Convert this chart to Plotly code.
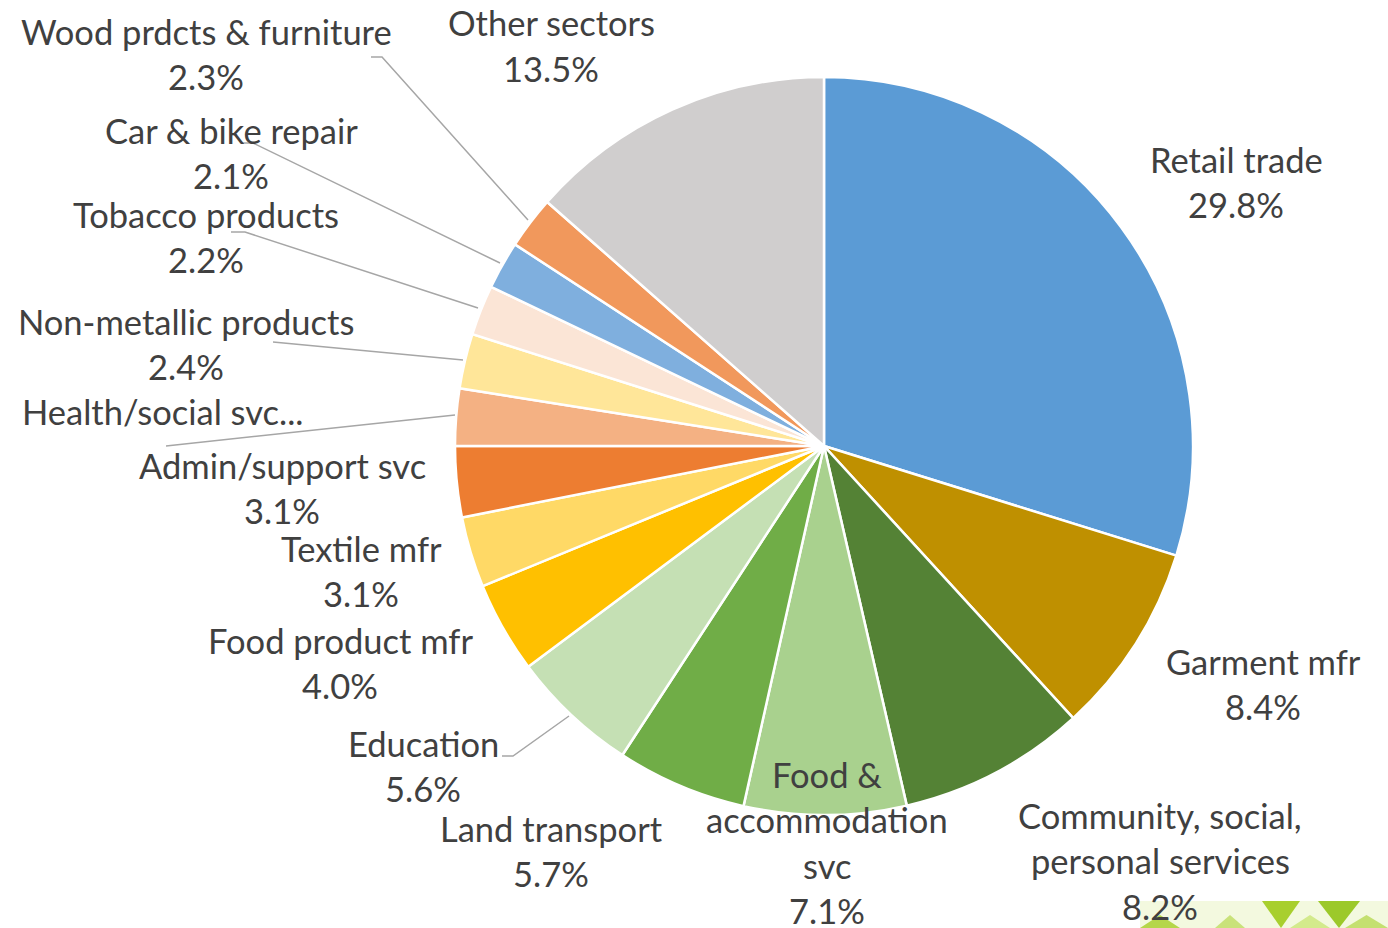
import plotly.graph_objects as go

# Employment share by sector (percent), clockwise from 12 o'clock
sectors = [
    "Retail trade", "Garment mfr", "Community, social, personal services",
    "Food & accommodation svc", "Land transport", "Education",
    "Food product mfr", "Textile mfr", "Admin/support svc",
    "Health/social svc", "Non-metallic products", "Tobacco products",
    "Car & bike repair", "Wood prdcts & furniture", "Other sectors",
]
shares = [29.8, 8.4, 8.2, 7.1, 5.7, 5.6, 4.0, 3.1, 3.1, 2.5, 2.4, 2.2, 2.1, 2.3, 13.5]
colors = [
    "#5B9BD5", "#BF9000", "#548235", "#A9D18E", "#70AD47", "#C5E0B4",
    "#FFC000", "#FFD966", "#ED7D31", "#F4B183", "#FFE699", "#FBE5D6",
    "#7FAFDE", "#F1985C", "#D0CECE",
]

# How each label is broken into lines, and whether its value is printed
label_lines = {
    "Community, social, personal services": ["Community, social,", "personal services"],
    "Food & accommodation svc": ["Food &", "accommodation", "svc"],
    "Health/social svc": ["Health/social svc..."],
}
show_value = {s: s != "Health/social svc" for s in sectors}

W, H = 1388, 928


def X(px):
    return px / W


def Y(py):
    return 1 - py / H


# Label block placement: centre x and y of the first line (page pixels)
label_pos = {
    "Retail trade": (1236, 159),
    "Garment mfr": (1263, 661),
    "Community, social, personal services": (1160, 815),
    "Food & accommodation svc": (827, 774),
    "Land transport": (551, 828),
    "Education": (423, 743),
    "Food product mfr": (340, 640),
    "Textile mfr": (361, 548),
    "Admin/support svc": (282, 465),
    "Health/social svc": (163, 411),
    "Non-metallic products": (186, 321),
    "Tobacco products": (206, 214),
    "Car & bike repair": (231, 130),
    "Wood prdcts & furniture": (206, 31),
    "Other sectors": (551, 23),
}
LINE_PITCH = 45.5

# Leader lines for the crowded small slices (page pixels)
leaders = {
    "Wood prdcts & furniture": [(371, 57), (382, 57), (528, 220)],
    "Car & bike repair": [(242, 143), (253, 143), (500, 263)],
    "Tobacco products": [(231, 232), (245, 232), (478, 308)],
    "Non-metallic products": [(273, 342), (463, 360)],
    "Health/social svc": [(166, 446), (455, 415)],
    "Education": [(502, 756), (513, 756), (569, 716)],
}

fig = go.Figure(
    go.Pie(
        labels=sectors,
        values=shares,
        sort=False,
        direction="clockwise",
        rotation=0,
        marker=dict(colors=colors, line=dict(color="white", width=2.5)),
        textinfo="none",
        hoverinfo="label+percent",
        showlegend=False,
        domain=dict(x=[X(455), X(1193)], y=[Y(815), Y(77)]),
    )
)

FONT = dict(family="Lato", size=34.5, color="#404040")
annotations = []
for name, val in zip(sectors, shares):
    cx, cy = label_pos[name]
    lines = list(label_lines.get(name, [name]))
    if show_value[name]:
        lines.append(f"{val:.1f}%")
    for i, txt in enumerate(lines):
        annotations.append(dict(
            x=X(cx), y=Y(cy + i * LINE_PITCH), xref="paper", yref="paper",
            text=txt, showarrow=False, xanchor="center", yanchor="middle",
            font=FONT,
        ))

shapes = []
for name, pts in leaders.items():
    path = "M " + " L ".join(f"{X(a)},{Y(b)}" for a, b in pts)
    shapes.append(dict(type="path", path=path, xref="paper", yref="paper",
                       line=dict(color="#A6A6A6", width=1.5)))

# Green triangle ribbon in the lower right corner
shapes.append(dict(type="rect", xref="paper", yref="paper",
                   x0=X(1140), x1=X(1388), y0=Y(928), y1=Y(901),
                   fillcolor="#F3F9DF", line=dict(width=0), layer="below"))
ribbon = [
    (1140, 1180, "#B5D64A", False), (1215, 1245, "#C9E27A", False),
    (1262, 1300, "#A8CF2E", True), (1290, 1330, "#D3EA8C", False),
    (1318, 1360, "#9CC92A", True), (1345, 1388, "#C4E070", False),
]
for a, b, c, down in ribbon:
    if down:
        p = f"M {X(a)},{Y(901)} L {X(b)},{Y(901)} L {X((a + b) / 2)},{Y(928)} Z"
    else:
        p = f"M {X(a)},{Y(928)} L {X(b)},{Y(928)} L {X((a + b) / 2)},{Y(915)} Z"
    shapes.append(dict(type="path", path=p, xref="paper", yref="paper",
                       fillcolor=c, line=dict(width=0), layer="below"))

fig.update_layout(
    width=W, height=H,
    margin=dict(l=0, r=0, t=0, b=0),
    paper_bgcolor="white", plot_bgcolor="white",
    annotations=annotations, shapes=shapes,
)

fig.write_html("out.html")
